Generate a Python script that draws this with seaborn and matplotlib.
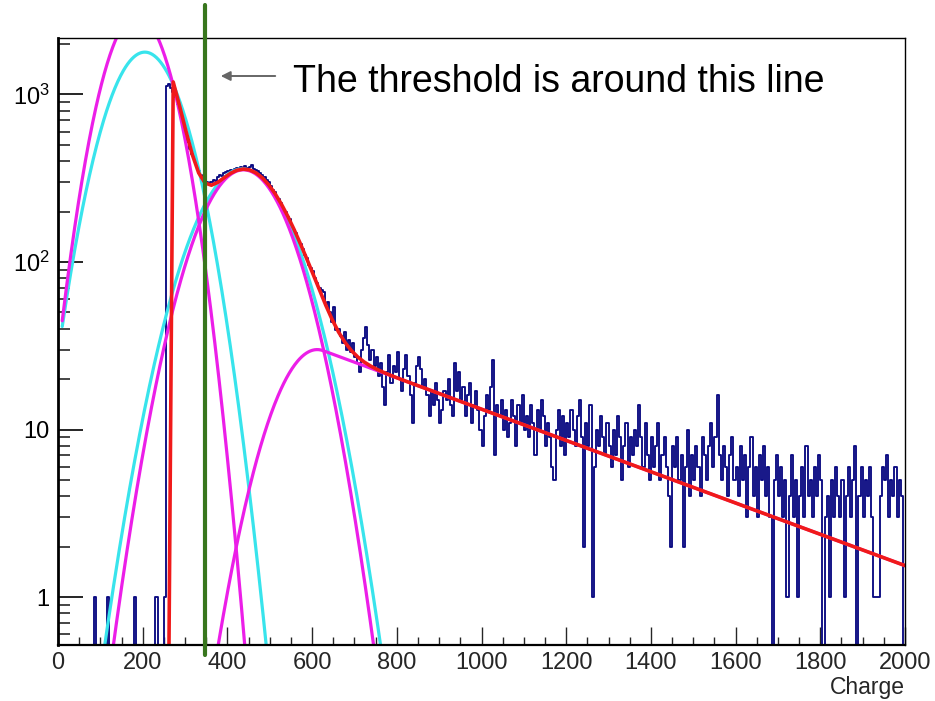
import numpy as np
import pandas as pd
import matplotlib
matplotlib.use("Agg")
import matplotlib.pyplot as plt
import seaborn as sns
from matplotlib.ticker import FixedLocator, MultipleLocator, LogLocator, NullFormatter

sns.set_theme(style="white")
plt.rcParams['font.family'] = ['Liberation Sans', 'DejaVu Sans']
plt.rcParams['mathtext.default'] = 'regular'

# ---------------- data ----------------
BIN_WIDTH = 5
X_RANGE = (0, 2000)

counts_0_255 = [0, 0, 0, 0, 0, 0, 0, 0, 0, 0,
                0, 0, 0, 0, 0, 0, 0, 1, 0, 0,
                0, 0, 0, 1, 0, 0, 0, 0, 0, 0,
                0, 0, 0, 0, 0, 0, 1, 0, 0, 0,
                0, 0, 0, 0, 0, 0, 1, 0, 0, 0,
                1]
counts_255_500 = [1130, 1150, 1100, 1040, 960, 880, 800, 700, 640, 590,
                  520, 470, 440, 405, 370, 350, 330, 320, 305, 300, 295,
                  300, 310, 305, 320, 330, 325, 340, 345, 350, 355,
                  345, 360, 365, 355, 370, 360, 375, 365, 370, 380,
                  360, 355, 350, 340, 330, 320, 310, 300]
counts_500_600 = [285, 270, 262, 240, 238, 225, 205, 200, 185, 180,
                  165, 155, 148, 135, 128, 120, 110, 105, 96, 92]
counts_600_700 = [88, 80, 75, 70, 68, 66, 55, 58, 50, 44, 54, 39, 40, 36, 33, 38, 30, 34, 29, 33]
counts_700_800 = [27, 25, 22, 30, 35, 41, 32, 26, 30, 24, 27, 21, 25, 18, 14, 22, 28, 19, 24, 22]
counts_800_900 = [29, 20, 17, 23, 28, 21, 16, 11, 19, 24, 27, 23, 18, 20, 16, 12, 17, 14, 19, 15]
counts_900_1000 = [11, 13, 17, 15, 20, 14, 12, 25, 17, 22, 15, 18, 12, 16, 19, 11, 14, 17, 13, 10]
counts_1000_1100 = [8, 12, 16, 13, 18, 26, 7, 14, 12, 15, 10, 13, 9, 11, 15, 12, 8, 14, 11, 16]
counts_1100_1200 = [10, 12, 9, 14, 11, 7, 13, 10, 15, 12, 8, 11, 9, 6, 5, 10, 13, 8, 12, 7]
counts_1200_1300 = [11, 9, 13, 10, 8, 12, 15, 9, 2, 11, 8, 14, 1, 6, 10, 8, 12, 9, 7, 11]
counts_1300_1400 = [8, 6, 10, 7, 12, 9, 5, 8, 11, 6, 9, 7, 10, 8, 14, 9, 6, 11, 7, 5]
counts_1400_1500 = [9, 6, 8, 11, 5, 7, 9, 6, 4, 2, 8, 6, 9, 5, 7, 2, 6, 10, 4, 7]
counts_1500_1600 = [5, 8, 6, 4, 9, 7, 5, 8, 11, 6, 9, 16, 7, 5, 8, 6, 4, 7, 9, 5]
counts_1600_1700 = [6, 4, 8, 5, 7, 3, 6, 9, 4, 6, 3, 7, 5, 8, 4, 6, 3, 0, 5, 7]
counts_1700_1800 = [4, 6, 3, 5, 1, 4, 7, 3, 5, 1, 4, 6, 3, 8, 4, 5, 3, 6, 4, 7]
counts_1800_1900 = [5, 0, 3, 4, 1, 5, 3, 6, 4, 3, 5, 1, 4, 6, 3, 5, 8, 0, 4, 6]
counts_1900_2000 = [3, 5, 4, 6, 3, 1, 1, 1, 4, 6, 5, 7, 3, 5, 4, 6, 3, 5, 4, 0]

# fit components: (amplitude, mean, sigma)
pedestal_magenta = (3000, 187, 61)
spe_magenta = (355, 438, 85)
tail_magenta = (30, 612, 82, 465)      # amplitude, mean, sigma, exponential slope
pedestal_cyan = (1790, 205, 71)
spe_cyan = (360, 436, 90)
curve_range = (10, 2000)
fit_range = (257, 2000)
fit_threshold = 265
threshold_line = 347

y_ticks = [1, 10, 100, 1000]
y_tick_labels = ['1', '10', '$10^{2}$', '$10^{3}$']
x_label = 'Charge'
annotation = 'The threshold is around this line'

# ---------------- helpers ----------------
counts = np.array(counts_0_255 + counts_255_500 + counts_500_600 + counts_600_700 +
                  counts_700_800 + counts_800_900 + counts_900_1000 + counts_1000_1100 +
                  counts_1100_1200 + counts_1200_1300 + counts_1300_1400 + counts_1400_1500 +
                  counts_1500_1600 + counts_1600_1700 + counts_1700_1800 + counts_1800_1900 +
                  counts_1900_2000, dtype=float)
edges = np.arange(X_RANGE[0], X_RANGE[1] + BIN_WIDTH, BIN_WIDTH)
centers = edges[:-1] + BIN_WIDTH / 2
hist_df = pd.DataFrame({'charge': centers, 'count': counts})


def gauss(x, p):
    a, m, s = p
    return a * np.exp(-(x - m) ** 2 / (2 * s ** 2))


def gauss_exp(x, p):
    a, m, s, tau = p
    k = s / tau
    t = (x - m) / s
    return a * np.where(t < k, np.exp(-0.5 * t ** 2), np.exp(0.5 * k ** 2 - k * t))


FLOOR = 1e-3
xc = np.linspace(curve_range[0], curve_range[1], 1200)
xr = np.linspace(fit_range[0], fit_range[1], 117)
total = (gauss(xr, pedestal_magenta) + gauss(xr, spe_magenta) + gauss_exp(xr, tail_magenta)) * (xr >= fit_threshold)

# ---------------- figure ----------------
W, H = 935, 701
fig = plt.figure(figsize=(W / 100, H / 100), dpi=100)
ax_l, ax_r, ax_t, ax_b = 58, 905, 38, 645
ax = fig.add_axes([ax_l / W, 1 - ax_b / H, (ax_r - ax_l) / W, (ax_b - ax_t) / H])
ax.set_yscale('log')

navy = '#0a0a82'
cyan = '#38e4ec'
magenta = '#ec1ee8'
red = '#f01a1a'
green = '#38761d'

sns.histplot(data=hist_df, x='charge', weights='count', bins=list(edges), element='step',
             fill=False, color=navy, linewidth=1.35, ax=ax)

for p in (pedestal_cyan, spe_cyan):
    sns.lineplot(x=xc, y=np.maximum(gauss(xc, p), FLOOR), color=cyan, linewidth=2.3,
                 estimator=None, sort=False, ax=ax)
for y in (gauss(xc, pedestal_magenta), gauss(xc, spe_magenta), gauss_exp(xc, tail_magenta)):
    sns.lineplot(x=xc, y=np.maximum(y, FLOOR), color=magenta, linewidth=2.3,
                 estimator=None, sort=False, ax=ax)
sns.lineplot(x=xr, y=np.maximum(total, 1e-2), color=red, linewidth=2.6,
             estimator=None, sort=False, ax=ax)

ax.set_xlim(*X_RANGE)
ax.set_ylim(0.517, 2174)

# threshold line extending beyond the frame
ax.axvline(threshold_line, ymin=(ax_b - 655) / (ax_b - ax_t), ymax=(ax_b - 5) / (ax_b - ax_t),
           color=green, linewidth=3.0, clip_on=False, zorder=10)

# axes styling (ROOT-like)
for side in ('left', 'bottom', 'right', 'top'):
    ax.spines[side].set_color('black')
    ax.spines[side].set_visible(True)
ax.spines['left'].set_linewidth(2.0)
ax.spines['bottom'].set_linewidth(1.6)
ax.spines['right'].set_linewidth(1.0)
ax.spines['top'].set_linewidth(1.0)

ax.yaxis.set_major_locator(FixedLocator(y_ticks))
ax.set_yticklabels(y_tick_labels)
ax.yaxis.set_minor_locator(LogLocator(base=10, subs=np.arange(2, 10)))
ax.yaxis.set_minor_formatter(NullFormatter())
ax.xaxis.set_major_locator(MultipleLocator(200))
ax.xaxis.set_minor_locator(MultipleLocator(50))

ax.tick_params(axis='y', which='major', direction='in', length=18, width=1.2, labelsize=17,
               pad=6, left=True, right=False, colors='black')
ax.tick_params(axis='y', which='minor', direction='in', length=8.5, width=1.2, left=True, right=False)
ax.tick_params(axis='x', which='major', direction='in', length=13, width=1.0, labelsize=17,
               pad=5, bottom=True, top=False)
ax.tick_params(axis='x', which='minor', direction='in', length=6, width=1.0, bottom=True, top=False)
ax.set_xlabel('')
ax.set_ylabel('')
ax.grid(False)

fig.text(905 / W, 1 - 694 / H, x_label, ha='right', va='baseline', fontsize=16.5)

# annotation text and arrow
fig.text(293 / W, 1 - 92 / H, annotation, ha='left', va='baseline', fontsize=27, color='black')
ax.annotate('', xy=(218 / W, 1 - 76 / H), xycoords='figure fraction',
            xytext=(278 / W, 1 - 76 / H), textcoords='figure fraction',
            arrowprops=dict(arrowstyle='-|>', color='#666666', lw=1.4, mutation_scale=14))

fig.savefig('out.png', dpi=100)
